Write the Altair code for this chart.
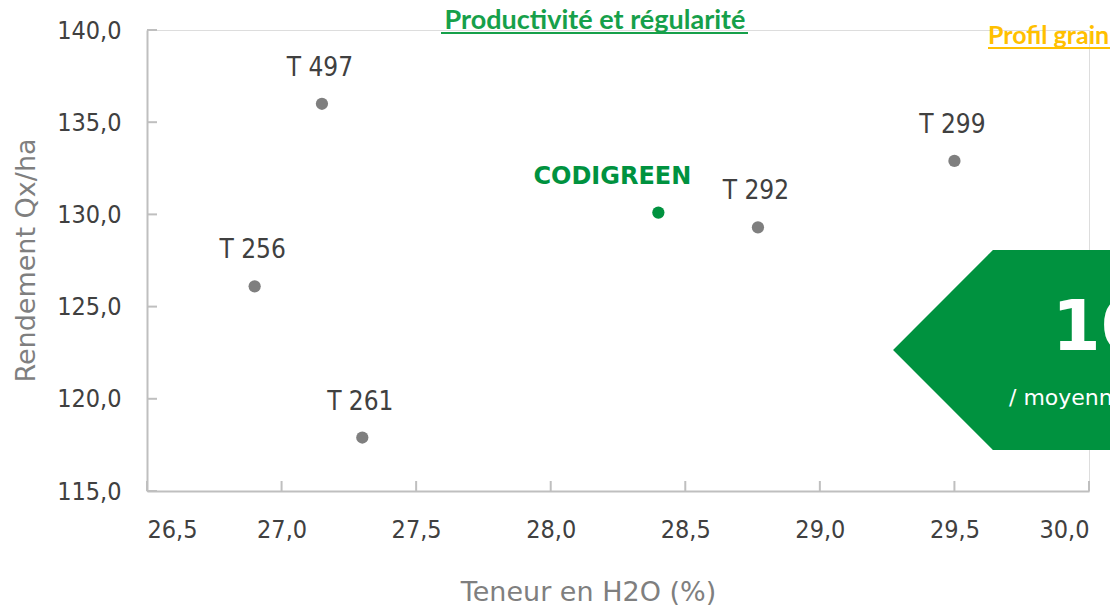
import altair as alt
import pandas as pd

# ---- data ----
names = ["T 497", "T 256", "T 261", "CODIGREEN", "T 292", "T 299"]
h2o = [27.15, 26.90, 27.30, 28.40, 28.77, 29.50]
rendement = [136.0, 126.1, 117.9, 130.1, 129.3, 132.9]
is_codigreen = [n == "CODIGREEN" for n in names]

x_ticks = [26.5, 27.0, 27.5, 28.0, 28.5, 29.0, 29.5, 30.0]
y_ticks = [115.0, 120.0, 125.0, 130.0, 135.0, 140.0]

# annotation arrow (left-pointing green banner), in data units
arrow_x = [29.272, 29.643, 30.6]
arrow_top = [122.65, 128.07, 128.07]
arrow_bot = [122.65, 117.22, 117.22]

title_main = "Productivité et régularité"
title_side = "Profil grain"
banner_big = "10"
banner_small = "/ moyenne"

GREEN = "#00923f"
GREY_PT = "#7f7f7f"
AXIS_GREY = "#bfbfbf"
TXT = "#404040"
FONT = "DejaVu Sans Condensed"
FONT_W = "DejaVu Sans"

df = pd.DataFrame({"name": names, "h2o": h2o, "rdt": rendement, "codi": is_codigreen})
arrow_df = pd.DataFrame({"x": arrow_x, "y": arrow_top, "y2": arrow_bot})
xt_df = pd.DataFrame({"v": x_ticks})
yt_df = pd.DataFrame({"v": y_ticks})

W, H = 942, 461
xscale = alt.Scale(domain=[26.5, 30.0], nice=False, zero=False)
yscale = alt.Scale(domain=[115, 140], nice=False, zero=False)
lab = "replace(format(datum.value, '.1f'), '.', ',')"

xenc = alt.X("h2o:Q", scale=xscale, axis=alt.Axis(
    values=x_ticks, labelExpr=lab, ticks=False, grid=False,
    domainColor=AXIS_GREY, domainWidth=2, labelFont=FONT, labelFontSize=25,
    labelColor=TXT, labelPadding=26, title="Teneur en H2O (%)",
    titleFont=FONT_W, titleFontSize=27, titleFontWeight="normal", titleColor="#7f7f7f",
    titleX=441, titleY=101, titleBaseline="middle", titleAnchor="middle"))
yenc = alt.Y("rdt:Q", scale=yscale, axis=alt.Axis(
    values=y_ticks, labelExpr=lab, ticks=False, grid=False,
    domainColor=AXIS_GREY, domainWidth=2, labelFont=FONT, labelFontSize=25,
    labelColor=TXT, labelPadding=26, title="Rendement Qx/ha",
    titleFont=FONT_W, titleFontSize=27, titleFontWeight="normal", titleColor="#7f7f7f",
    titleX=-121, titleY=230, titleBaseline="middle", titleAnchor="middle"))

points = alt.Chart(df).mark_circle(size=150, opacity=1).encode(
    x=xenc, y=yenc,
    color=alt.condition("datum.codi", alt.value(GREEN), alt.value(GREY_PT)))

labels_grey = alt.Chart(df).transform_filter("!datum.codi").mark_text(
    font=FONT, fontSize=26, color=TXT, dy=-36, dx=-2, baseline="middle").encode(
    x="h2o:Q", y="rdt:Q", text="name:N")
label_codi = alt.Chart(df).transform_filter("datum.codi").mark_text(
    font=FONT_W, fontSize=24, fontWeight="bold", color=GREEN, dy=-36, dx=-46,
    baseline="middle").encode(x="h2o:Q", y="rdt:Q", text="name:N")

xticks_l = alt.Chart(xt_df).mark_rule(color=AXIS_GREY, strokeWidth=2).encode(
    x=alt.X("v:Q", scale=xscale), y=alt.value(H), y2=alt.value(H - 10))
yticks_l = alt.Chart(yt_df).mark_rule(color=AXIS_GREY, strokeWidth=2).encode(
    y=alt.Y("v:Q", scale=yscale), x=alt.value(0), x2=alt.value(10))

arrow = alt.Chart(arrow_df).mark_area(color=GREEN, opacity=1).encode(
    x=alt.X("x:Q", scale=xscale), y=alt.Y("y:Q", scale=yscale), y2="y2:Q")

ann = pd.DataFrame({"t": [0]})
big = alt.Chart(ann).mark_text(font=FONT_W, fontSize=70, fontWeight="bold", color="white",
    align="left", baseline="alphabetic").encode(
    x=alt.value(905), y=alt.value(320), text=alt.value(banner_big))
small = alt.Chart(ann).mark_text(font=FONT_W, fontSize=22, color="white",
    align="left", baseline="alphabetic").encode(
    x=alt.value(862), y=alt.value(375), text=alt.value(banner_small))

t_main = alt.Chart(ann).mark_text(font="Lato", fontSize=27, fontWeight="bold", color="#16a04a",
    align="center", baseline="alphabetic").encode(
    x=alt.value(448), y=alt.value(-1), text=alt.value(title_main))
u_main = alt.Chart(ann).mark_rule(color="#16a04a", strokeWidth=2).encode(
    x=alt.value(294), x2=alt.value(601), y=alt.value(3))
t_side = alt.Chart(ann).mark_text(font="Lato", fontSize=25, fontWeight="bold", color="#ffc000",
    align="left", baseline="alphabetic").encode(
    x=alt.value(841), y=alt.value(14), text=alt.value(title_side))
u_side = alt.Chart(ann).mark_rule(color="#ffc000", strokeWidth=2).encode(
    x=alt.value(841), x2=alt.value(1000), y=alt.value(18))

chart = alt.layer(
    arrow, xticks_l, yticks_l, points, labels_grey, label_codi,
    big, small, t_main, u_main, t_side, u_side
).properties(
    width=W, height=H,
    autosize=alt.AutoSizeParams(type="none"),
    padding={"left": 139, "top": 22, "right": 21, "bottom": 115},
).configure_view(stroke=None).configure(background="white")

chart.save("out.html", embed_options={"renderer": "svg", "actions": False})
